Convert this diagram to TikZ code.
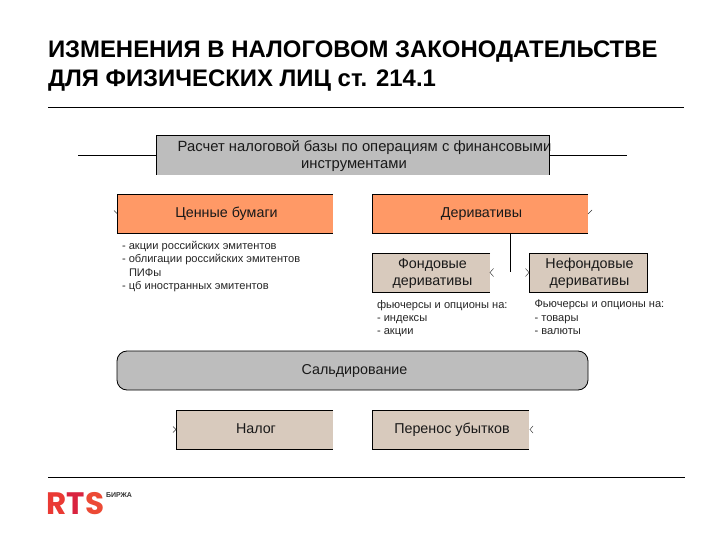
\documentclass[tikz,border=0pt]{standalone}
\usepackage{fontspec}
\setmainfont{Liberation Sans}
\newfontfamily\logofont{Poppins}
\definecolor{boxgray}{HTML}{BDBDBD}
\definecolor{boxorange}{HTML}{FF9966}
\definecolor{boxtan}{HTML}{D8CABD}
\definecolor{logoa}{HTML}{EA3A34}
\definecolor{logob}{HTML}{D9233F}
\definecolor{logoc}{HTML}{EC4A35}
\newcommand{\boxline}[2]{\hspace*{3pt}\raisebox{#1}[10pt][3pt]{#2}}
\tikzset{
  every node/.style={inner sep=0pt,outer sep=0pt},
  fillbox/.style={minimum width=#1,minimum height=39pt,anchor=north west,align=center,font=\fontsize{14.3}{17}\selectfont,text=black!90},
  fillbox/.default=100pt,
  edge/.style={draw=black,line width=0.8pt},
  chev/.style={draw=black!80,line width=0.45pt},
  listtext/.style={anchor=north west,align=left,font=\fontsize{11.1}{13.4}\selectfont,text=black!85},
  rule/.style={draw=black,line width=0.8pt},
}
\begin{document}
\begin{tikzpicture}[x=1pt,y=-1pt]
\useasboundingbox (0,0) rectangle (720,540);
\fill[white] (0,0) rectangle (720,540);
% title
\node[anchor=north west,align=left,font=\bfseries\fontsize{23.9}{29}\selectfont] (title) at (48,40.5) {ИЗМЕНЕНИЯ В НАЛОГОВОМ ЗАКОНОДАТЕЛЬСТВЕ\\ДЛЯ ФИЗИЧЕСКИХ ЛИЦ ст. 214.1};
\coordinate (r1a) at (48,107); \coordinate (r1b) at (684,107);
\draw[rule] (r1a) -- (r1b);
\coordinate (r2a) at (48,477); \coordinate (r2b) at (685,477);
\draw[rule] (r2a) -- (r2b);
% top box
\node[fillbox=393pt,fill=boxgray,minimum height=40pt] (top) at (156.5,135) {};
\node[font=\fontsize{14.8}{17}\selectfont,align=center,text=black!90] (toptext) at (364.5,156) {Расчет налоговой базы по операциям с финансовыми\\\hspace*{-21pt}инструментами};
\draw[edge] (top.south west) -- (top.north west) -- (top.north east) -- (top.south east);
\coordinate (tl) at (78,155); \coordinate (tr) at (627,155);
\draw[edge] (top.west) -- (tl);
\draw[edge] (top.east) -- (tr);
% orange
\node[fillbox=216pt,fill=boxorange] (cb) at (117,194) {\boxline{-1pt}{Ценные бумаги}};
\draw[edge] (cb.north east) -- (cb.north west) -- (cb.south west) -- (cb.south east);
\node[fillbox=216pt,fill=boxorange] (der) at (372,194) {\boxline{-1pt}{Деривативы}};
\draw[edge] (der.north east) -- (der.north west) -- (der.south west) -- (der.south east);
% derivative children
\node[fillbox=118pt,fill=boxtan] (fd) at (372,253) {\boxline{-0.5pt}{Фондовые}\\\boxline{-0.5pt}{деривативы}};
\draw[edge] (fd.north east) -- (fd.north west) -- (fd.south west) -- (fd.south east);
\node[fillbox=118pt,fill=boxtan,draw=black,line width=0.8pt] (nfd) at (529,253) {\boxline{-0.5pt}{Нефондовые}\\\boxline{-0.5pt}{деривативы}};
\coordinate (stem) at (der.south -| 510,0);
\coordinate (stemend) at (510,272);
\draw[edge] (stem) -- (stemend);
% lists
\node[listtext] (l1) at (122,241) {- акции российских эмитентов\\- облигации российских эмитентов\\\hspace*{7pt}ПИФы\\- цб иностранных эмитентов};
\node[listtext] (l2) at (377,300) {фьючерсы и опционы на:\\- индексы\\- акции};
\node[listtext] (l3) at (534.5,300) {Фьючерсы и опционы на:\\- товары\\- валюты};
% saldo
\node[fillbox=471pt,fill=boxgray,draw=black,line width=0.8pt,rounded corners=10pt] (sal) at (117,351) {\boxline{0pt}{\hspace*{1pt}Сальдирование}};
% bottom
\node[fillbox=157pt,fill=boxtan] (nal) at (176,410) {\boxline{0pt}{Налог}};
\draw[edge] (nal.north east) -- (nal.north west) -- (nal.south west) -- (nal.south east);
\node[fillbox=157pt,fill=boxtan] (per) at (372,410) {\boxline{0pt}{Перенос убытков}};
\draw[edge] (per.north east) -- (per.north west) -- (per.south west) -- (per.south east);
% chevrons
\draw[chev] ([shift={(-3,-3)}]cb.west) -- ([shift={(0,0)}]cb.west);
\draw[chev] ([shift={(4,-3.5)}]der.east) -- ([shift={(0,0.5)}]der.east);
\draw[chev] ([shift={(3.5,-4)}]fd.east) -- ([shift={(0,0)}]fd.east) -- ([shift={(3.5,4)}]fd.east);
\draw[chev] ([shift={(-3.5,-4)}]nfd.west) -- ([shift={(0,0)}]nfd.west) -- ([shift={(-3.5,4)}]nfd.west);
\draw[chev] ([shift={(-3,-3)}]nal.west) -- (nal.west) -- ([shift={(-3,3)}]nal.west);
\draw[chev] ([shift={(4,-3.5)}]per.east) -- ([shift={(1,0)}]per.east) -- ([shift={(4,3.5)}]per.east);
% logo
\node[anchor=west,font=\logofont\bfseries\fontsize{31}{31}\selectfont] (logo) at (46.5,503.5) {\textcolor{logoa}{R}\textcolor{logob}{T}\textcolor{logoc}{S}};
\node[anchor=west,font=\bfseries\fontsize{7}{8}\selectfont,text=black!80] (birzha) at (106,495.5) {БИРЖА};
\end{tikzpicture}
\end{document}
